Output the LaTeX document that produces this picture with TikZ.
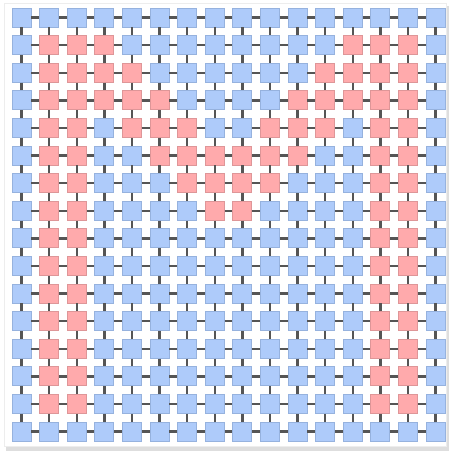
\documentclass[tikz,border=0pt]{standalone}
\usetikzlibrary{calc}
\definecolor{cellblue}{RGB}{174,203,250}
\definecolor{cellblueedge}{RGB}{150,178,222}
\definecolor{cellred}{RGB}{255,170,172}
\definecolor{cellrededge}{RGB}{222,150,152}
\definecolor{linkgray}{RGB}{85,85,85}
\tikzset{
  cell/.style={rectangle, minimum size=19pt, inner sep=0pt, line width=0.8pt},
  bluecell/.style={cell, fill=cellblue, draw=cellblueedge},
  redcell/.style={cell, fill=cellred, draw=cellrededge},
  link/.style={draw=linkgray, line width=2.4pt},
}
\def\pat{{%
0,0,0,0,0,0,0,0,0,0,0,0,0,0,0,0,%
0,1,1,1,0,0,0,0,0,0,0,0,1,1,1,0,%
0,1,1,1,1,0,0,0,0,0,0,1,1,1,1,0,%
0,1,1,1,1,1,0,0,0,0,1,1,1,1,1,0,%
0,1,1,0,1,1,1,0,0,1,1,1,0,1,1,0,%
0,1,1,0,0,1,1,1,1,1,1,0,0,1,1,0,%
0,1,1,0,0,0,1,1,1,1,0,0,0,1,1,0,%
0,1,1,0,0,0,0,1,1,0,0,0,0,1,1,0,%
0,1,1,0,0,0,0,0,0,0,0,0,0,1,1,0,%
0,1,1,0,0,0,0,0,0,0,0,0,0,1,1,0,%
0,1,1,0,0,0,0,0,0,0,0,0,0,1,1,0,%
0,1,1,0,0,0,0,0,0,0,0,0,0,1,1,0,%
0,1,1,0,0,0,0,0,0,0,0,0,0,1,1,0,%
0,1,1,0,0,0,0,0,0,0,0,0,0,1,1,0,%
0,1,1,0,0,0,0,0,0,0,0,0,0,1,1,0,%
0,0,0,0,0,0,0,0,0,0,0,0,0,0,0,0}}
\begin{document}
\begin{tikzpicture}[x=1pt,y=-1pt]
\useasboundingbox (0,0) rectangle (449,451);
\fill[black!13] (6,6) rectangle (449,451);
\filldraw[fill=white, draw=black!7, line width=0.6pt] (4,3) rectangle (446,446);
\foreach \r in {0,...,15} {
  \foreach \c in {0,...,15} {
    \pgfmathtruncatemacro\v{\pat[\r*16+\c]}
    \ifnum\v=1
      \node[redcell] (n-\r-\c) at ({21.5+27.6*\c},{17.5+27.6*\r}) {};
    \else
      \node[bluecell] (n-\r-\c) at ({21.5+27.6*\c},{17.5+27.6*\r}) {};
    \fi
  }
}
\foreach \r in {0,...,15} {
  \foreach \c [evaluate=\c as \cc using int(\c+1)] in {0,...,14} {
    \draw[link] (n-\r-\c) -- (n-\r-\cc);
    \draw[link] (n-\c-\r) -- (n-\cc-\r);
  }
}
\end{tikzpicture}
\end{document}
